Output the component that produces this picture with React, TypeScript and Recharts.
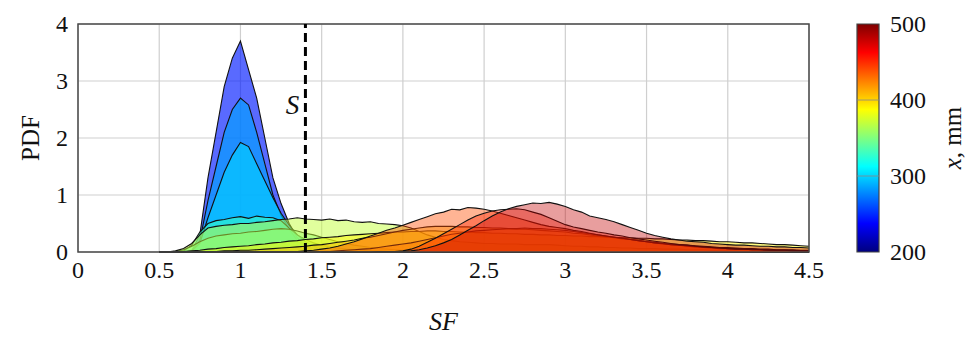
import React from 'react';
import {
  ComposedChart,
  Area,
  Line,
  XAxis,
  YAxis,
  CartesianGrid,
  ReferenceLine,
  ReferenceArea,
  Label,
} from 'recharts';

// SF bin centres shared by every histogram
const sf = [
  0.5, 0.55, 0.6, 0.65, 0.7, 0.75, 0.8, 0.85, 0.9, 0.95,
  1, 1.05, 1.1, 1.15, 1.2, 1.25, 1.3, 1.35, 1.4, 1.45,
  1.5, 1.55, 1.6, 1.65, 1.7, 1.75, 1.8, 1.85, 1.9, 1.95,
  2, 2.05, 2.1, 2.15, 2.2, 2.25, 2.3, 2.35, 2.4, 2.45,
  2.5, 2.55, 2.6, 2.65, 2.7, 2.75, 2.8, 2.85, 2.9, 2.95,
  3, 3.05, 3.1, 3.15, 3.2, 3.25, 3.3, 3.35, 3.4, 3.45,
  3.5, 3.55, 3.6, 3.65, 3.7, 3.75, 3.8, 3.85, 3.9, 3.95,
  4, 4.05, 4.1, 4.15, 4.2, 4.25, 4.3, 4.35, 4.4, 4.45,
  4.5,
];

// measuring station of each histogram, mm (drawn in this order)
const stations = [245, 285, 300, 330, 345, 370, 390, 410, 420, 440, 452, 480];

const pdf245 = [
  0, 0, 0, 0, 0.02, 0.3, 1.3, 2.1, 2.9, 3.4,
  3.7, 3.2, 2.7, 2.0, 1.3, 0.85, 0.5, 0.25, 0.1, 0.04,
  0, 0, 0, 0, 0, 0, 0, 0, 0, 0,
  0, 0, 0, 0, 0, 0, 0, 0, 0, 0,
  0, 0, 0, 0, 0, 0, 0, 0, 0, 0,
  0, 0, 0, 0, 0, 0, 0, 0, 0, 0,
  0, 0, 0, 0, 0, 0, 0, 0, 0, 0,
  0, 0, 0, 0, 0, 0, 0, 0, 0, 0,
  0,
];
const pdf285 = [
  0, 0, 0, 0, 0.02, 0.2, 0.9, 1.5, 2.1, 2.5,
  2.7, 2.58, 2.1, 1.55, 1.0, 0.65, 0.4, 0.2, 0.08, 0.03,
  0, 0, 0, 0, 0, 0, 0, 0, 0, 0,
  0, 0, 0, 0, 0, 0, 0, 0, 0, 0,
  0, 0, 0, 0, 0, 0, 0, 0, 0, 0,
  0, 0, 0, 0, 0, 0, 0, 0, 0, 0,
  0, 0, 0, 0, 0, 0, 0, 0, 0, 0,
  0, 0, 0, 0, 0, 0, 0, 0, 0, 0,
  0,
];
const pdf300 = [
  0, 0, 0, 0, 0.02, 0.15, 0.6, 1.0, 1.4, 1.7,
  1.92, 1.85, 1.55, 1.25, 0.95, 0.68, 0.47, 0.3, 0.18, 0.1,
  0.05, 0.02, 0, 0, 0, 0, 0, 0, 0, 0,
  0, 0, 0, 0, 0, 0, 0, 0, 0, 0,
  0, 0, 0, 0, 0, 0, 0, 0, 0, 0,
  0, 0, 0, 0, 0, 0, 0, 0, 0, 0,
  0, 0, 0, 0, 0, 0, 0, 0, 0, 0,
  0, 0, 0, 0, 0, 0, 0, 0, 0, 0,
  0,
];
const pdf330 = [
  0, 0, 0, 0.02, 0.12, 0.35, 0.5, 0.55, 0.57, 0.6,
  0.62, 0.59, 0.63, 0.61, 0.6, 0.55, 0.42, 0.3, 0.22, 0.16,
  0.12, 0.09, 0.07, 0.05, 0.04, 0.03, 0.02, 0.02, 0.01, 0.01,
  0, 0, 0, 0, 0, 0, 0, 0, 0, 0,
  0, 0, 0, 0, 0, 0, 0, 0, 0, 0,
  0, 0, 0, 0, 0, 0, 0, 0, 0, 0,
  0, 0, 0, 0, 0, 0, 0, 0, 0, 0,
  0, 0, 0, 0, 0, 0, 0, 0, 0, 0,
  0,
];
const pdf345 = [
  0, 0, 0.01, 0.04, 0.1, 0.18, 0.24, 0.28, 0.3, 0.32,
  0.33, 0.35, 0.36, 0.38, 0.4, 0.41, 0.4, 0.37, 0.33, 0.3,
  0.26, 0.22, 0.18, 0.15, 0.12, 0.1, 0.08, 0.06, 0.05, 0.04,
  0.03, 0.02, 0.02, 0.01, 0.01, 0, 0, 0, 0, 0,
  0, 0, 0, 0, 0, 0, 0, 0, 0, 0,
  0, 0, 0, 0, 0, 0, 0, 0, 0, 0,
  0, 0, 0, 0, 0, 0, 0, 0, 0, 0,
  0, 0, 0, 0, 0, 0, 0, 0, 0, 0,
  0,
];
const pdf370 = [
  0, 0, 0.02, 0.06, 0.15, 0.3, 0.42, 0.45, 0.47, 0.48,
  0.5, 0.5, 0.52, 0.53, 0.55, 0.57, 0.58, 0.6, 0.58, 0.57,
  0.56, 0.58, 0.55, 0.56, 0.53, 0.52, 0.53, 0.5, 0.49, 0.48,
  0.46, 0.42, 0.36, 0.3, 0.26, 0.22, 0.2, 0.18, 0.17, 0.16,
  0.15, 0.15, 0.14, 0.14, 0.14, 0.13, 0.13, 0.13, 0.13, 0.12,
  0.11, 0.1, 0.1, 0.09, 0.09, 0.08, 0.08, 0.07, 0.07, 0.06,
  0.06, 0.06, 0.05, 0.05, 0.05, 0.04, 0.04, 0.04, 0.03, 0.03,
  0.03, 0.03, 0.03, 0.02, 0.02, 0.02, 0.02, 0.02, 0.02, 0.01,
  0.01,
];
const pdf390 = [
  0, 0, 0, 0.01, 0.02, 0.03, 0.05, 0.06, 0.08, 0.09,
  0.1, 0.11, 0.13, 0.14, 0.16, 0.17, 0.19, 0.2, 0.22, 0.23,
  0.25, 0.26, 0.27, 0.29, 0.3, 0.31, 0.32, 0.33, 0.34, 0.35,
  0.35, 0.36, 0.36, 0.37, 0.37, 0.36, 0.36, 0.35, 0.35, 0.34,
  0.34, 0.33, 0.33, 0.32, 0.32, 0.31, 0.31, 0.3, 0.3, 0.29,
  0.29, 0.28, 0.28, 0.27, 0.27, 0.26, 0.26, 0.25, 0.25, 0.24,
  0.24, 0.23, 0.23, 0.22, 0.21, 0.21, 0.2, 0.2, 0.19, 0.18,
  0.18, 0.17, 0.16, 0.16, 0.15, 0.14, 0.13, 0.13, 0.12, 0.11,
  0.1,
];
const pdf410 = [
  0, 0, 0, 0, 0, 0, 0.01, 0.01, 0.02, 0.02,
  0.03, 0.03, 0.04, 0.05, 0.06, 0.07, 0.08, 0.09, 0.1, 0.12,
  0.13, 0.15, 0.17, 0.19, 0.21, 0.24, 0.26, 0.29, 0.32, 0.35,
  0.38, 0.4, 0.42, 0.44, 0.45, 0.45, 0.45, 0.44, 0.44, 0.43,
  0.43, 0.42, 0.42, 0.41, 0.4, 0.4, 0.39, 0.38, 0.37, 0.36,
  0.35, 0.33, 0.32, 0.3, 0.28, 0.27, 0.25, 0.23, 0.22, 0.2,
  0.18, 0.17, 0.15, 0.14, 0.13, 0.12, 0.11, 0.1, 0.09, 0.08,
  0.08, 0.07, 0.06, 0.06, 0.05, 0.05, 0.04, 0.04, 0.04, 0.03,
  0.03,
];
const pdf420 = [
  0, 0, 0, 0, 0, 0, 0, 0, 0, 0,
  0, 0, 0, 0, 0, 0, 0, 0, 0, 0,
  0.01, 0.01, 0.02, 0.03, 0.04, 0.05, 0.06, 0.08, 0.1, 0.12,
  0.14, 0.16, 0.19, 0.22, 0.25, 0.28, 0.31, 0.33, 0.35, 0.37,
  0.38, 0.39, 0.4, 0.41, 0.41, 0.42, 0.41, 0.41, 0.4, 0.39,
  0.38, 0.36, 0.34, 0.32, 0.3, 0.28, 0.26, 0.24, 0.22, 0.2,
  0.18, 0.16, 0.14, 0.13, 0.12, 0.1, 0.09, 0.08, 0.07, 0.06,
  0.06, 0.05, 0.05, 0.04, 0.04, 0.03, 0.03, 0.03, 0.02, 0.02,
  0.02,
];
const pdf440 = [
  0, 0, 0, 0, 0, 0, 0, 0, 0, 0,
  0, 0, 0, 0, 0, 0, 0.01, 0.01, 0.02, 0.03,
  0.05, 0.07, 0.1, 0.14, 0.18, 0.23, 0.28, 0.33, 0.38, 0.42,
  0.47, 0.52, 0.57, 0.62, 0.67, 0.7, 0.75, 0.74, 0.78, 0.77,
  0.75, 0.72, 0.68, 0.64, 0.6, 0.56, 0.52, 0.48, 0.45, 0.43,
  0.41, 0.38, 0.36, 0.33, 0.3, 0.28, 0.26, 0.24, 0.22, 0.2,
  0.18, 0.16, 0.15, 0.13, 0.12, 0.11, 0.1, 0.09, 0.08, 0.07,
  0.06, 0.06, 0.05, 0.05, 0.04, 0.04, 0.03, 0.03, 0.03, 0.02,
  0.02,
];
const pdf452 = [
  0, 0, 0, 0, 0, 0, 0, 0, 0, 0,
  0, 0, 0, 0, 0, 0, 0, 0, 0, 0,
  0, 0, 0, 0, 0, 0, 0, 0.01, 0.01, 0.01,
  0.02, 0.05, 0.1, 0.17, 0.24, 0.32, 0.4, 0.48, 0.56, 0.63,
  0.68, 0.72, 0.74, 0.75, 0.76, 0.74, 0.7, 0.66, 0.6, 0.54,
  0.48, 0.44, 0.41, 0.38, 0.35, 0.33, 0.3, 0.28, 0.25, 0.23,
  0.21, 0.19, 0.17, 0.15, 0.13, 0.12, 0.1, 0.09, 0.08, 0.07,
  0.06, 0.05, 0.05, 0.04, 0.04, 0.03, 0.03, 0.03, 0.02, 0.02,
  0.02,
];
const pdf480 = [
  0, 0, 0, 0, 0, 0, 0, 0, 0, 0,
  0, 0, 0, 0, 0, 0, 0, 0, 0, 0,
  0, 0, 0, 0, 0, 0, 0, 0, 0, 0,
  0.01, 0.02, 0.04, 0.07, 0.11, 0.16, 0.22, 0.3, 0.38, 0.46,
  0.55, 0.63, 0.7, 0.76, 0.8, 0.83, 0.86, 0.85, 0.87, 0.84,
  0.8, 0.74, 0.7, 0.63, 0.6, 0.57, 0.53, 0.48, 0.43, 0.38,
  0.33, 0.29, 0.26, 0.23, 0.21, 0.19, 0.18, 0.17, 0.15, 0.14,
  0.13, 0.12, 0.12, 0.11, 0.1, 0.1, 0.09, 0.09, 0.08, 0.08,
  0.07,
];

const histograms = [
  pdf245, pdf285, pdf300, pdf330, pdf345, pdf370,
  pdf390, pdf410, pdf420, pdf440, pdf452, pdf480,
];

// fill opacity per histogram: the narrow blue peaks are drawn denser
const fillAlpha = [0.65, 0.65, 0.6, 0.55, 0.5, 0.5, 0.5, 0.45, 0.42, 0.42, 0.38, 0.38];

const sfTicks = [0, 0.5, 1, 1.5, 2, 2.5, 3, 3.5, 4, 4.5];
const pdfTicks = [0, 1, 2, 3, 4];
const stationRange = [200, 500];
const stationTicks = [200, 300, 400, 500];
const thresholdSF = 1.4;

const rows = sf.map((s, i) => {
  const row: Record<string, number> = { sf: s };
  histograms.forEach((h, k) => {
    row['h' + k] = h[i];
  });
  return row;
});

// matlab-style jet colour for a station between 200 and 500 mm
function jet(mm: number) {
  const t = (mm - 200) / 300;
  const c = (d: number) =>
    Math.round(255 * Math.max(0, Math.min(1, 1.5 - Math.abs(4 * t - d))));
  return `rgb(${c(3)},${c(2)},${c(1)})`;
}

const FONT = '"Liberation Serif", "DejaVu Serif", serif';

// serif tick text; anchor and baseline shift depend on the axis side
function makeTick(anchor: 'start' | 'middle' | 'end', dy: string) {
  return (props: any) => (
    <text
      x={props.x}
      y={props.y}
      dy={dy}
      textAnchor={anchor}
      fontFamily={FONT}
      fontSize={24}
      fill="#111"
    >
      {props.payload.value}
    </text>
  );
}

function MainPlot() {
  return (
    <ComposedChart
      width={840}
      height={331}
      data={rows}
      margin={{ top: 16, right: 39, left: 0, bottom: 0 }}
    >
      <CartesianGrid stroke="#cfcfcf" strokeWidth={1.2} />
      <XAxis
        dataKey="sf"
        type="number"
        domain={[0, 4.5]}
        ticks={sfTicks}
        height={87}
        tickSize={0}
        tickMargin={9}
        tickLine={false}
        axisLine={false}
        tick={makeTick('middle', '0.71em')}
      >
        <Label
          content={({ viewBox }: any) => (
            <text
              x={viewBox.x + viewBox.width / 2}
              y={322}
              textAnchor="middle"
              fontFamily={FONT}
              fontStyle="italic"
              fontSize={26}
              fill="#111"
            >
              SF
            </text>
          )}
        />
      </XAxis>
      <YAxis
        type="number"
        domain={[0, 4]}
        ticks={pdfTicks}
        width={70}
        tickSize={0}
        tickMargin={10}
        tickLine={false}
        axisLine={false}
        tick={makeTick('end', '0.35em')}
      >
        <Label
          content={() => (
            <text
              x={22}
              y={130}
              transform="rotate(-90 22 130)"
              textAnchor="middle"
              dominantBaseline="central"
              fontFamily={FONT}
              fontSize={25}
              fill="#111"
            >
              PDF
            </text>
          )}
        />
      </YAxis>
      {stations.map((mm, k) => (
        <Area
          key={mm}
          type="linear"
          dataKey={'h' + k}
          fill={jet(mm)}
          fillOpacity={fillAlpha[k]}
          stroke="#111"
          strokeWidth={1.1}
          dot={false}
          activeDot={false}
          isAnimationActive={false}
        />
      ))}
      <ReferenceLine
        x={thresholdSF}
        stroke="#000"
        strokeWidth={3}
        strokeDasharray="9 5"
        label={({ viewBox }: any) => (
          <text
            x={viewBox.x - 13}
            y={viewBox.y + 90}
            textAnchor="middle"
            fontFamily={FONT}
            fontStyle="italic"
            fontSize={27}
            fill="#111"
          >
            S
          </text>
        )}
      />
      <ReferenceArea
        x1={0}
        x2={4.5}
        y1={0}
        y2={4}
        fill="none"
        stroke="#4a4a4a"
        strokeWidth={1.5}
      />
    </ComposedChart>
  );
}

// two-point track spanning the colour scale so the bar's axis has a domain
const barRows = [
  { c: 0, mm: stationRange[0] },
  { c: 1, mm: stationRange[1] },
];

function ColorBar() {
  return (
    <ComposedChart
      width={128}
      height={331}
      data={barRows}
      margin={{ top: 16, right: 0, left: 9, bottom: 87 }}
    >
      <defs>
        <linearGradient id="jetBar" x1="0" y1="1" x2="0" y2="0">
          <stop offset="0" stopColor="#00007f" />
          <stop offset="0.125" stopColor="#0000ff" />
          <stop offset="0.375" stopColor="#00ffff" />
          <stop offset="0.625" stopColor="#ffff00" />
          <stop offset="0.875" stopColor="#ff0000" />
          <stop offset="1" stopColor="#7f0000" />
        </linearGradient>
      </defs>
      <XAxis dataKey="c" type="number" domain={[0, 1]} hide />
      <YAxis
        orientation="right"
        type="number"
        domain={stationRange}
        ticks={stationTicks}
        width={97}
        tickSize={0}
        tickMargin={11}
        tickLine={false}
        axisLine={false}
        tick={makeTick('start', '0.35em')}
      >
        <Label
          content={() => (
            <text
              x={104}
              y={130}
              transform="rotate(-90 104 130)"
              textAnchor="middle"
              dominantBaseline="central"
              fontFamily={FONT}
              fontSize={25}
              fill="#111"
            >
              <tspan fontStyle="italic">x</tspan>, mm
            </text>
          )}
        />
      </YAxis>
      <Line
        dataKey="mm"
        stroke="none"
        dot={false}
        activeDot={false}
        isAnimationActive={false}
      />
      <ReferenceArea
        x1={0}
        x2={1}
        y1={200}
        y2={500}
        fill="url(#jetBar)"
        fillOpacity={1}
        stroke="#444"
        strokeWidth={1.2}
      />
      <ReferenceLine y={300} stroke="#888" strokeWidth={0.8} />
      <ReferenceLine y={400} stroke="#888" strokeWidth={0.8} />
    </ComposedChart>
  );
}

export default function App() {
  return (
    <div
      style={{ position: 'relative', width: 968, height: 331, fontFamily: FONT }}
    >
      <div style={{ position: 'absolute', left: 0, top: 0 }}>
        <MainPlot />
      </div>
      <div style={{ position: 'absolute', left: 840, top: 0 }}>
        <ColorBar />
      </div>
    </div>
  );
}
